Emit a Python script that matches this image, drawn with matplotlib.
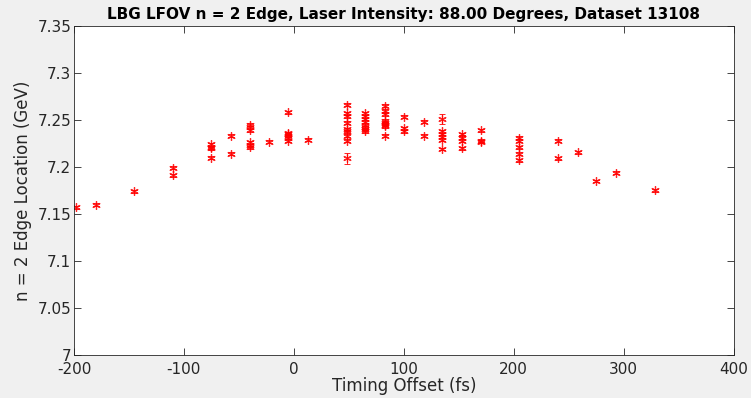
import matplotlib
matplotlib.use("Agg")
import matplotlib.pyplot as plt
import numpy as np

plt.rcParams["axes.unicode_minus"] = False

# timing offset (fs) per group, and the edge locations measured at that offset
offsets = [-198, -180, -145, -110, -75, -57, -40, -22.5, -5, 12.5,
           48, 65, 83, 100, 118, 135, 152.5, 170, 205, 240, 258, 275, 293, 328]
edges = [
    [7.157],
    [7.160],
    [7.174],
    [7.199, 7.191],
    [7.224, 7.221, 7.220, 7.210],
    [7.233, 7.214],
    [7.245, 7.242, 7.239, 7.226, 7.223, 7.221],
    [7.227],
    [7.258, 7.236, 7.235, 7.233, 7.231, 7.228],
    [7.229],
    [7.266, 7.257, 7.254, 7.247, 7.240, 7.238, 7.233, 7.228, 7.209],
    [7.257, 7.254, 7.251, 7.248, 7.245, 7.242, 7.240, 7.238],
    [7.265, 7.260, 7.256, 7.249, 7.247, 7.245, 7.243, 7.233],
    [7.2535, 7.241, 7.238],
    [7.248, 7.233],
    [7.251, 7.238, 7.235, 7.232, 7.229, 7.219],
    [7.235, 7.231, 7.228, 7.220],
    [7.239, 7.228, 7.227],
    [7.231, 7.228, 7.221, 7.214, 7.207],
    [7.228, 7.209],
    [7.2155],
    [7.185],
    [7.194],
    [7.175],
]
# error bars: small everywhere, except a couple of visibly longer ones
base_err = 0.0015
big_err = {(48, 7.209): 0.006, (135, 7.251): 0.005}

x, y, err = [], [], []
for off, vals in zip(offsets, edges):
    for v in vals:
        x.append(off)
        y.append(v)
        err.append(big_err.get((off, v), base_err))

bg = "#f0f0f0"
fig = plt.figure(figsize=(7.51, 3.98), dpi=100, facecolor=bg)
ax = fig.add_axes([0.0985, 0.108, 0.8785, 0.827])
ax.set_facecolor("white")

# MATLAB-style asterisk marker
ax.errorbar(x, y, yerr=err, fmt="none", ecolor="red",
            elinewidth=0.6, capsize=2, capthick=0.6)
ax.plot(x, y, linestyle="none", marker=(6, 2, 0), color="red",
        markersize=6, markeredgewidth=0.9, alpha=0.85)

ax.set_xlim(-200, 400)
ax.set_ylim(7.0, 7.35)
ax.set_xticks(np.arange(-200, 401, 100))
ax.set_yticks(np.arange(7.0, 7.351, 0.05))
ax.set_yticklabels(["7", "7.05", "7.1", "7.15", "7.2", "7.25", "7.3", "7.35"])

ax.tick_params(direction="in", top=True, right=True, length=5, width=0.6,
               colors="#262626", labelsize=11, pad=2)
ax.tick_params(axis="x", pad=5)
for s in ax.spines.values():
    s.set_color("#262626")
    s.set_linewidth(0.6)

ax.set_xlabel("Timing Offset (fs)", fontsize=12, color="#262626", labelpad=0)
ax.set_ylabel("n = 2 Edge Location (GeV)", fontsize=12, color="#262626", labelpad=4)
ax.set_title("LBG LFOV n = 2 Edge, Laser Intensity: 88.00 Degrees, Dataset 13108",
             fontsize=11, fontweight="bold", color="black", pad=5)

fig.savefig("out.png", dpi=100, facecolor=bg)
